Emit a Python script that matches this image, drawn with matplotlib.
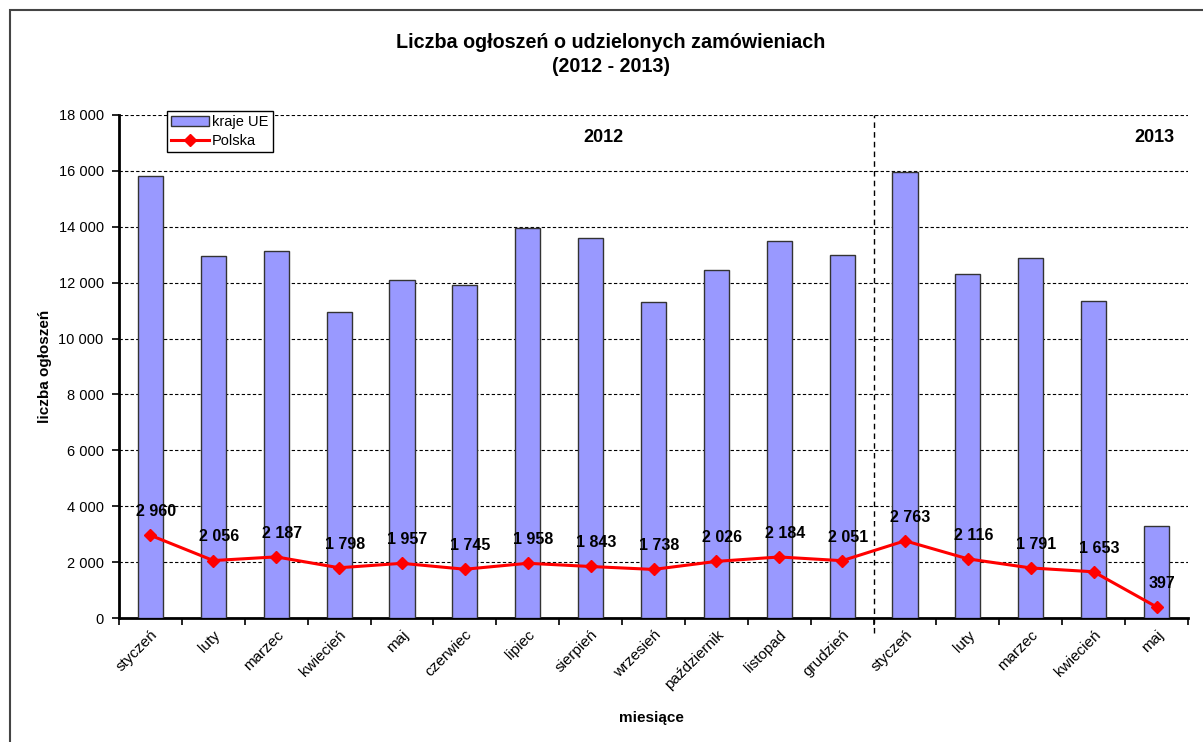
import matplotlib
matplotlib.use("Agg")
import matplotlib.pyplot as plt
from matplotlib.patches import Rectangle
from matplotlib.ticker import FuncFormatter, MultipleLocator

plt.rcParams['font.family'] = ['Liberation Sans', 'DejaVu Sans']

months = ["styczeń", "luty", "marzec", "kwiecień", "maj", "czerwiec", "lipiec",
          "sierpień", "wrzesień", "październik", "listopad", "grudzień",
          "styczeń", "luty", "marzec", "kwiecień", "maj"]
eu_values = [15800, 12950, 13150, 10950, 12100, 11900, 13950, 13600, 11300,
             12450, 13500, 13000, 15950, 12300, 12900, 11350, 3300]
pl_values = [2960, 2056, 2187, 1798, 1957, 1745, 1958, 1843, 1738, 2026,
             2184, 2051, 2763, 2116, 1791, 1653, 397]
year_labels = ["2012", "2013"]
months_2012 = 12

W, H = 1203, 742
fig = plt.figure(figsize=(W / 100, H / 100), dpi=100)
ax = fig.add_axes([119 / W, 1 - 618 / H, (1188 - 119) / W, (618 - 115) / H])

x = list(range(len(months)))
bars = ax.bar(x, eu_values, width=0.4, color="#9999FF", edgecolor="#333333",
              linewidth=1.0, label="kraje UE", zorder=3)
line, = ax.plot(x, pl_values, color="red", linewidth=2.2, marker="D", markersize=6,
                label="Polska", zorder=4)

for xi, v in zip(x, pl_values):
    s = f"{v:,}".replace(",", " ")
    ax.annotate(s, (xi, v), xytext=(4, 17), textcoords="offset points",
                ha="center", va="center", fontsize=11.5, fontweight="bold",
                zorder=5)

ax.set_xlim(-0.5, len(months) - 0.5)
ax.set_ylim(0, 18000)
ax.yaxis.set_major_locator(MultipleLocator(2000))
ax.yaxis.set_major_formatter(FuncFormatter(lambda v, p: f"{int(v):,}".replace(",", " ")))
ax.grid(axis="y", linestyle=(0, (3, 2)), color="black", linewidth=0.8, zorder=0)
ax.set_axisbelow(True)

ax.set_xticks([i - 0.5 for i in range(len(months) + 1)])
ax.set_xticklabels([])
ax.set_xticks(x, minor=True)
ax.set_xticklabels(months, minor=True, rotation=45, ha="right",
                   rotation_mode="anchor", fontsize=11)
ax.tick_params(axis="x", which="minor", length=0, pad=7)
ax.tick_params(axis="x", which="major", length=5, width=1.2, direction="out")
ax.tick_params(axis="y", length=5, width=1.2, labelsize=10.5, pad=6)
for lbl in ax.get_xticklabels(minor=True):
    lbl.set_x(0)

for side in ["top", "right"]:
    ax.spines[side].set_visible(False)
for side in ["left", "bottom"]:
    ax.spines[side].set_linewidth(2.0)

ax.axvline(months_2012 - 0.5, ymin=-0.03, ymax=1, color="black",
           linestyle=(0, (4, 3)), linewidth=1.0, clip_on=False, zorder=2)

ax.text(0.453, 0.956, year_labels[0], transform=ax.transAxes, ha="center",
        va="center", fontsize=13, fontweight="bold")
ax.text(0.969, 0.956, year_labels[1], transform=ax.transAxes, ha="center",
        va="center", fontsize=13, fontweight="bold")

ax.set_ylabel("liczba ogłoszeń", fontsize=11, fontweight="bold", labelpad=5)
fig.text(651 / W, 1 - 718 / H, "miesiące", ha="center", va="center",
         fontsize=11, fontweight="bold")

fig.text(611 / W, 1 - 42 / H, "Liczba ogłoszeń o udzielonych zamówieniach",
         ha="center", va="center", fontsize=14.2, fontweight="bold")
fig.text(611 / W, 1 - 66 / H, "(2012 - 2013)", ha="center", va="center",
         fontsize=14.2, fontweight="bold")

leg = ax.legend([bars, line], ["kraje UE", "Polska"], loc="upper left",
                bbox_to_anchor=(167 / W, 1 - 111 / H),
                bbox_transform=fig.transFigure, fontsize=10.5, frameon=True,
                fancybox=False, edgecolor="black", framealpha=1,
                borderpad=0.3, handlelength=2.6, handletextpad=0.2,
                labelspacing=0.3, borderaxespad=0)
leg.get_frame().set_linewidth(1.0)

fig.patches.append(Rectangle((10 / W, -0.05), 1.2, 1 - 10 / H + 0.05,
                             transform=fig.transFigure, fill=False,
                             edgecolor="#444444", linewidth=1.5))

fig.savefig("out.png", dpi=100)
